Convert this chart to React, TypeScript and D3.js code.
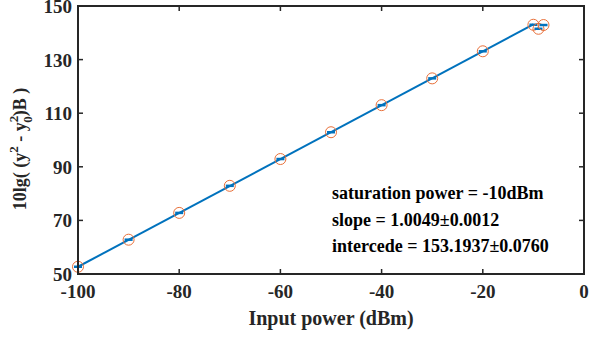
import * as d3 from "d3";

const inputPower = [-100, -90, -80, -70, -60, -50, -40, -30, -20, -10, -9, -8];
const measured = [52.7, 62.8, 72.8, 82.9, 92.9, 102.9, 113.0, 123.0, 133.1, 143.0, 141.5, 142.9];
const fitX = [-100, -10];
const slope = 1.0049;
const intercept = 153.1937;
const xTicks = [-100, -80, -60, -40, -20, 0];
const yTicks = [50, 70, 90, 110, 130, 150];
const notes = ["saturation power = -10dBm", "slope = 1.0049\u00b10.0012", "intercede = 153.1937\u00b10.0760"];

const W = 590;
const H = 339;
const margin = { top: 6, right: 6, bottom: 65, left: 78 };
const font = "'Liberation Serif', 'Times New Roman', serif";

export default function App() {
  const x = d3.scaleLinear().domain([-100, 0]).range([margin.left, W - margin.right]);
  const y = d3.scaleLinear().domain([50, 150]).range([H - margin.bottom, margin.top]);
  const line = d3.line<number>().x((d) => x(d)).y((d) => y(slope * d + intercept));
  const x0 = margin.left;
  const x1 = W - margin.right;
  const y0 = H - margin.bottom;
  const y1 = margin.top;
  const tk = 5;

  return (
    <svg width={W} height={H} style={{ position: "absolute", left: 0, top: 0, background: "#fff" }} fontFamily={font} fontWeight="bold">
      <path d={line(fitX) ?? ""} fill="none" stroke="#0072bd" strokeWidth={2} />
      {inputPower.map((p, i) => (
        <g key={i}>
          <line x1={x(p) - 4} x2={x(p) + 4} y1={y(measured[i])} y2={y(measured[i])} stroke="#0072bd" strokeWidth={2.5} />
          <circle cx={x(p)} cy={y(measured[i])} r={5.5} fill="none" stroke="#e8703a" strokeWidth={1} />
        </g>
      ))}
      <rect x={x0} y={y1} width={x1 - x0} height={y0 - y1} fill="none" stroke="#262626" strokeWidth={2} />
      {xTicks.map((t) => (
        <g key={t}>
          <line x1={x(t)} x2={x(t)} y1={y0} y2={y0 - tk} stroke="#262626" strokeWidth={1.5} />
          <line x1={x(t)} x2={x(t)} y1={y1} y2={y1 + tk} stroke="#262626" strokeWidth={1.5} />
          <text x={x(t)} y={y0 + 24} textAnchor="middle" fontSize={19} fill="#262626">{t}</text>
        </g>
      ))}
      {yTicks.map((t) => (
        <g key={t}>
          <line x1={x0} x2={x0 + tk} y1={y(t)} y2={y(t)} stroke="#262626" strokeWidth={1.5} />
          <line x1={x1} x2={x1 - tk} y1={y(t)} y2={y(t)} stroke="#262626" strokeWidth={1.5} />
          <text x={x0 - 6} y={y(t) + 7} textAnchor="end" fontSize={19} fill="#262626">{t}</text>
        </g>
      ))}
      <text x={(x0 + x1) / 2} y={325} textAnchor="middle" fontSize={20} fill="#262626">Input power (dBm)</text>
      <text transform={`translate(26, 149) rotate(-90)`} textAnchor="middle" fontSize={18} fill="#262626">
        10lg( (y<tspan dy={-8} fontSize={13}>2</tspan>
        <tspan dy={8}> - y</tspan>
        <tspan dy={-8} fontSize={13}>2</tspan>
        <tspan dx={-7} dy={14} fontSize={13}>0</tspan>
        <tspan dy={-6}>)B )</tspan>
      </text>
      {notes.map((n, i) => (
        <text key={n} x={332} y={199 + i * 26.5} fontSize={18} fill="#000">{n}</text>
      ))}
    </svg>
  );
}
